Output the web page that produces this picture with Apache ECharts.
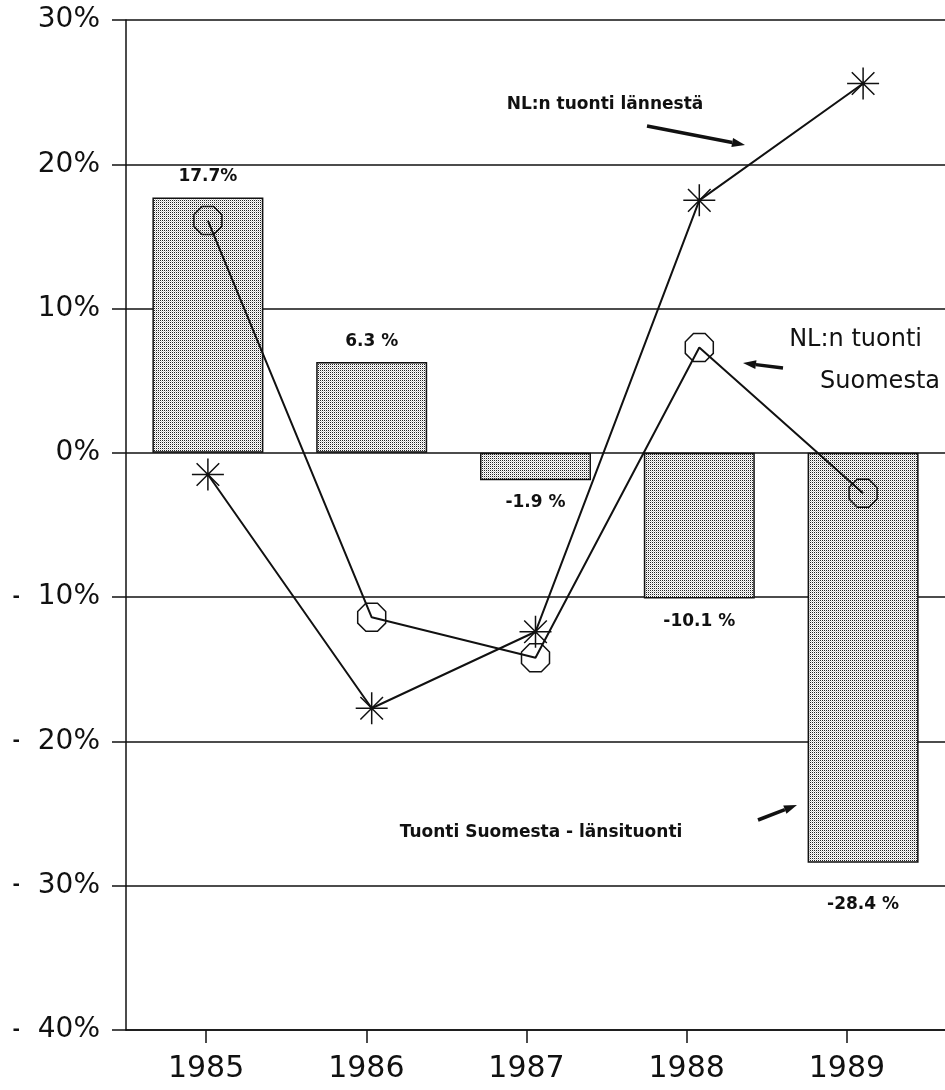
<!DOCTYPE html>
<html>
<head>
<meta charset="utf-8">
<script src="https://cdn.jsdelivr.net/npm/echarts@6/dist/echarts.min.js"></script>
<style>
  html, body { margin: 0; padding: 0; background: #fff; }
  #chart { width: 945px; height: 1090px; }
</style>
</head>
<body>
<div id="chart"></div>
<script>
// values
const years = ['1985', '1986', '1987', '1988', '1989'];
const diffValues = [17.7, 6.3, -1.9, -10.1, -28.4];
const diffLabels = ['17.7%', '6.3 %', '-1.9 %', '-10.1 %', '-28.4 %'];
const westImports = [-1.5, -17.7, -12.4, 17.5, 25.6];     // NL:n tuonti lännestä (stars)
const finlandImports = [16.1, -11.4, -14.2, 7.3, -2.8];   // NL:n tuonti Suomesta (octagons)
const yMin = -40, yMax = 30, yStep = 10;

const black = '#111';
const font = 'DejaVu Sans';

// dotted screen fill like the printed bars
function dotPattern() {
  const c = document.createElement('canvas');
  c.width = 2; c.height = 2;
  const g = c.getContext('2d');
  g.fillStyle = '#fff';
  g.fillRect(0, 0, 2, 2);
  g.fillStyle = '#222';
  g.fillRect(0, 0, 1, 1);
  g.fillStyle = '#ccc';
  g.fillRect(1, 1, 1, 1);
  return c;
}

const starPath = 'path://M0,16L32,16M16,0L16,32M4.7,4.7L27.3,27.3M27.3,4.7L4.7,27.3';
const octPath = 'path://M26.93,8.64L26.93,19.36L19.36,26.93L8.64,26.93L1.07,19.36L1.07,8.64L8.64,1.07L19.36,1.07Z';

function arrow(x1, y1, x2, y2) {
  const a = Math.atan2(y2 - y1, x2 - x1);
  const len = 13, half = 4.5;
  const bx = x2 - len * Math.cos(a), by = y2 - len * Math.sin(a);
  const nx = -Math.sin(a) * half, ny = Math.cos(a) * half;
  return {
    type: 'group',
    children: [
      { type: 'line', shape: { x1: x1, y1: y1, x2: bx, y2: by }, style: { stroke: black, lineWidth: 3.5 } },
      { type: 'polygon', shape: { points: [[x2, y2], [bx + nx, by + ny], [bx - nx, by - ny]] }, style: { fill: black } }
    ]
  };
}

const chart = echarts.init(document.getElementById('chart'));

chart.setOption({
  animation: false,
  backgroundColor: '#fff',
  grid: [
    { left: 126, right: 0, top: 20, bottom: 60, containLabel: false, outerBoundsMode: 'none' },
    { left: 126, right: 18, top: 20, bottom: 60, containLabel: false, outerBoundsMode: 'none' }
  ],
  xAxis: [
    {
      type: 'category',
      gridIndex: 0,
      data: years,
      axisLine: { onZero: false, lineStyle: { color: black, width: 1.5 } },
      axisTick: { show: false },
      axisLabel: { show: false }
    },
    {
      type: 'category',
      gridIndex: 1,
      data: years,
      axisLine: { show: false, onZero: false },
      axisTick: { show: true, alignWithLabel: true, length: 13, lineStyle: { color: black, width: 1.5 } },
      axisLabel: { color: black, fontFamily: font, fontSize: 30, margin: 24 }
    }
  ],
  yAxis: [
    {
      type: 'value',
      gridIndex: 0,
      min: yMin,
      max: yMax,
      interval: yStep,
      axisLine: { show: true, lineStyle: { color: black, width: 1.5 } },
      axisTick: { show: true, length: 14, lineStyle: { color: black, width: 1.5 } },
      splitLine: { lineStyle: { color: black, width: 1.5 } },
      axisLabel: {
        color: black,
        fontFamily: font,
        fontSize: 28,
        margin: 26,
        formatter: v => v < 0 ? '{d|-}  ' + Math.abs(v) + '%' : v + '%',
        rich: { d: { fontSize: 18, fontWeight: 'bold', fontFamily: font, color: black } }
      }
    },
    { type: 'value', gridIndex: 1, min: yMin, max: yMax, interval: yStep, show: false }
  ],
  series: [
    {
      name: 'Tuonti Suomesta - länsituonti',
      type: 'bar',
      xAxisIndex: 0,
      yAxisIndex: 0,
      barWidth: 111,
      itemStyle: {
        color: { image: dotPattern(), repeat: 'repeat' },
        borderColor: black,
        borderWidth: 1.5
      },
      label: { show: true, color: black, fontFamily: font, fontWeight: 'bold', fontSize: 17 },
      data: diffValues.map((v, i) => ({
        value: v,
        label: {
          position: v >= 0 ? 'top' : 'bottom',
          distance: i === 4 ? 33 : (v >= 0 ? 12 : 14),
          formatter: diffLabels[i]
        }
      }))
    },
    {
      name: 'NL:n tuonti lännestä',
      type: 'line',
      xAxisIndex: 0,
      yAxisIndex: 0,
      symbol: starPath,
      symbolSize: 32,
      lineStyle: { color: black, width: 2 },
      itemStyle: { color: 'none', borderColor: black, borderWidth: 1.5 },
      data: westImports,
      z: 3
    },
    {
      name: 'NL:n tuonti Suomesta',
      type: 'line',
      xAxisIndex: 0,
      yAxisIndex: 0,
      symbol: octPath,
      symbolSize: 28,
      lineStyle: { color: black, width: 2 },
      itemStyle: { color: 'none', borderColor: black, borderWidth: 1.5 },
      data: finlandImports,
      z: 3
    }
  ],
  graphic: [
    { type: 'text', x: 605, y: 105, style: { text: 'NL:n tuonti lännestä', fill: black, font: 'bold 17px "DejaVu Sans"', textAlign: 'center', textVerticalAlign: 'middle' } },
    arrow(647, 126, 745, 145),
    { type: 'text', x: 922, y: 340, style: { text: 'NL:n tuonti', fill: black, font: '24px "DejaVu Sans"', textAlign: 'right', textVerticalAlign: 'middle' } },
    { type: 'text', x: 940, y: 382, style: { text: 'Suomesta', fill: black, font: '24px "DejaVu Sans"', textAlign: 'right', textVerticalAlign: 'middle' } },
    arrow(783, 368, 743, 363),
    { type: 'text', x: 541, y: 833, style: { text: 'Tuonti Suomesta - länsituonti', fill: black, font: 'bold 17px "DejaVu Sans"', textAlign: 'center', textVerticalAlign: 'middle' } },
    arrow(758, 820, 797, 805)
  ]
});
</script>
</body>
</html>
